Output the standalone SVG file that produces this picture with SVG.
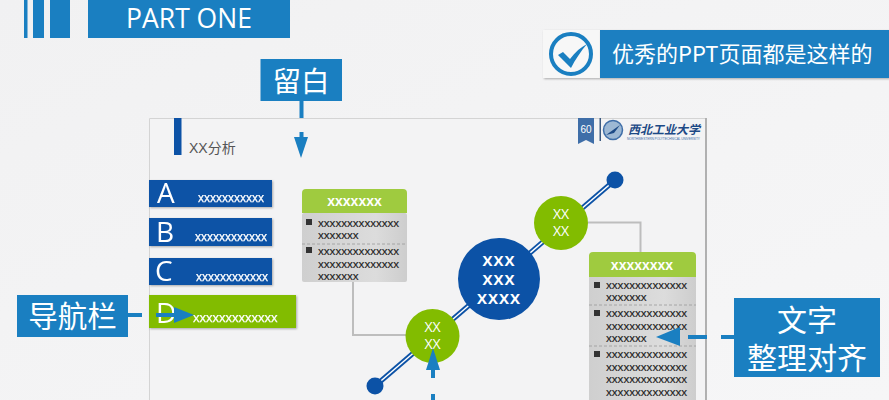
<svg xmlns="http://www.w3.org/2000/svg" width="889" height="400" viewBox="0 0 889 400">
<style>
.blue{fill:#1a7fc1}
.navy{fill:#0c52a6}
.green{fill:#82bc00}
.lime{fill:#9fcb3f}
.w{fill:#fff;font-family:"Open Sans","Liberation Sans",sans-serif}
.cjk{fill:#fff;font-family:"Noto Sans CJK SC","Noto Sans",sans-serif;text-anchor:middle}
.lt{fill:#fff;stroke:#fff;stroke-width:.25;font-family:"Liberation Sans",sans-serif;font-size:12px}
.ctr{text-anchor:middle}
.tb{fill:#222;stroke:#222;stroke-width:.15;font-family:"Liberation Sans",sans-serif;font-size:11.6px}
.hd{fill:#fff;font-family:"Liberation Sans",sans-serif;font-size:14px;text-anchor:middle;font-weight:bold}
.cn{fill:none;stroke:#bdbdbd;stroke-width:2}
.ar{fill:none;stroke:#1a7fc1;stroke-width:4}
.sep{stroke:#999;stroke-width:.8;stroke-dasharray:3 2}
.bul{fill:#333}
</style>
<defs>
<linearGradient id="bg" x1="0" y1="0" x2="1" y2="1"><stop offset="0" stop-color="#f1f1f2"/><stop offset="1" stop-color="#f6f6f7"/></linearGradient>
<linearGradient id="cell" x1="0" y1="0" x2="1" y2="0"><stop offset="0" stop-color="#cfcfcf"/><stop offset=".7" stop-color="#dcdcdc"/><stop offset="1" stop-color="#cdcdcd"/></linearGradient>
<filter id="sh" x="-5%" y="-10%" width="110%" height="125%"><feDropShadow dx="1" dy="1" stdDeviation="1" flood-color="#000" flood-opacity=".3"/></filter>
</defs>
<rect width="889" height="400" fill="url(#bg)"/>

<g id="part-one">
<rect class="blue" x="24" y="0" width="3.500" height="38"/>
<rect class="blue" x="33" y="0" width="11" height="38"/>
<rect class="blue" x="50" y="0" width="20" height="38"/>
<rect class="blue" x="88" y="0" width="202" height="38"/>
<text class="w" x="189" y="27.500" font-size="26.500" text-anchor="middle">PART ONE</text>
</g>

<g id="slide">
<rect x="149" y="118" width="557" height="290" fill="#f3f3f4"/>
<path d="M149.500 400V118.500H705" fill="none" stroke="#d4d4d4" stroke-width="1"/>
<path d="M706 118V400" stroke="#9a9a9a" stroke-width="1.500" fill="none"/>
<rect class="navy" x="174" y="118" width="7.500" height="37"/>
<text x="189" y="153" font-size="14" fill="#555" font-family="'Liberation Sans','Noto Sans CJK SC',sans-serif">XX分析</text>
</g>

<g id="slide-logo">
<path d="M578 118h16v26l-8-4-8 4z" fill="#3f6ea8"/>
<text x="586" y="133" font-size="10" fill="#fff" text-anchor="middle" font-family="'Liberation Sans',sans-serif">60</text>
<rect x="599.500" y="118" width="1.500" height="23" fill="#3c5a80"/>
<circle cx="613" cy="130" r="9.500" fill="#9db8d4" stroke="#3f6ea8" stroke-width="1.500"/>
<path d="M606 135 L620 125 L614 133 Z" fill="#1d4a86"/>
<text x="628" y="134" font-size="12" font-weight="bold" font-style="italic" fill="#1d4a86" textLength="72" font-family="'Noto Sans CJK SC',sans-serif">西北工业大学</text>
<text x="627" y="139.500" font-size="3.200" fill="#3f6ea8" textLength="73" font-family="'Liberation Sans',sans-serif">NORTHWESTERN POLYTECHNICAL UNIVERSITY</text>
</g>

<g id="connectors">
<path class="cn" d="M353 282V335H406"/>
<path class="cn" d="M588 222.500H640.500V252"/>
<path d="M375 386L615 180" stroke="#0c52a6" stroke-width="5" fill="none"/>
<path d="M375 386L615 180" stroke="#fff" stroke-width="1.500" fill="none"/>
</g>

<g id="nav-a" filter="url(#sh)">
<rect class="navy" x="149" y="180" width="123" height="27"/>
<text class="w" x="157" y="203" font-size="28">A</text>
<text class="lt" x="198" y="202">xxxxxxxxxxx</text>
</g>
<g id="nav-b" filter="url(#sh)">
<rect class="navy" x="149" y="218" width="123" height="28"/>
<text class="w" x="156" y="241.500" font-size="28">B</text>
<text class="lt" x="195" y="241">xxxxxxxxxxxx</text>
</g>
<g id="nav-c" filter="url(#sh)">
<rect class="navy" x="149" y="258" width="123" height="27"/>
<text class="w" x="155" y="281" font-size="28">C</text>
<text class="lt" x="196" y="281">xxxxxxxxxxxx</text>
</g>
<g id="nav-d" filter="url(#sh)">
<rect class="green" x="149" y="295" width="147" height="33"/>
<text class="w" x="156" y="323" font-size="28">D</text>
<text class="lt" x="193" y="322" style="font-size:13px">xxxxxxxxxxxxx</text>
</g>

<g id="table-left">
<path class="lime" d="M302 213V193a4 4 0 0 1 4-4H403a4 4 0 0 1 4 4V213Z"/>
<rect x="302" y="213" width="105" height="69" rx="2" fill="url(#cell)"/>
<text class="hd" x="354.500" y="206">xxxxxxx</text>
<line class="sep" x1="302" y1="244" x2="407" y2="244"/>
<rect class="bul" x="306" y="219" width="6" height="6"/>
<rect class="bul" x="306" y="247" width="6" height="6"/>
<text class="tb" x="318" y="227">xxxxxxxxxxxxxx</text>
<text class="tb" x="318" y="239">xxxxxxx</text>
<text class="tb" x="318" y="255">xxxxxxxxxxxxxx</text>
<text class="tb" x="318" y="268">xxxxxxxxxxxxxx</text>
<text class="tb" x="318" y="280">xxxxxxx</text>
</g>

<g id="table-right">
<path class="lime" d="M589 277V256a4 4 0 0 1 4-4H692a4 4 0 0 1 4 4V277Z"/>
<rect x="589" y="277" width="107" height="130" fill="url(#cell)"/>
<text class="hd" x="642" y="270">xxxxxxxx</text>
<line class="sep" x1="589" y1="305" x2="696" y2="305"/>
<line class="sep" x1="589" y1="346" x2="696" y2="346"/>
<rect class="bul" x="594" y="282" width="6" height="6"/>
<rect class="bul" x="594" y="310" width="6" height="6"/>
<rect class="bul" x="594" y="351" width="6" height="6"/>
<text class="tb" x="606" y="289">xxxxxxxxxxxxxx</text>
<text class="tb" x="606" y="301">xxxxxxx</text>
<text class="tb" x="606" y="317">xxxxxxxxxxxxxx</text>
<text class="tb" x="606" y="330">xxxxxxxxxxxxxx</text>
<text class="tb" x="606" y="342">xxxxxxx</text>
<text class="tb" x="606" y="358">xxxxxxxxxxxxxx</text>
<text class="tb" x="606" y="371">xxxxxxxxxxxxxx</text>
<text class="tb" x="606" y="383">xxxxxxxxxxxxxx</text>
<text class="tb" x="606" y="396">xxxxxxxxxxxxxx</text>
</g>

<g id="circle-center">
<circle class="navy" cx="499" cy="279" r="41"/>
<text class="w ctr" x="499" y="265.500" font-size="15" font-weight="bold" letter-spacing="1">XXX</text>
<text class="w ctr" x="499" y="284.500" font-size="15" font-weight="bold" letter-spacing="1">XXX</text>
<text class="w ctr" x="499" y="303.500" font-size="15" font-weight="bold" letter-spacing="1">XXXX</text>
</g>
<g id="circle-lower">
<circle class="green" cx="432.500" cy="336" r="27"/>
<text class="w ctr" x="432.500" y="332" font-size="14">XX</text>
<text class="w ctr" x="432.500" y="349" font-size="14">XX</text>
</g>
<g id="circle-upper">
<circle class="green" cx="561" cy="223" r="27"/>
<text class="w ctr" x="561" y="219" font-size="14">XX</text>
<text class="w ctr" x="561" y="236" font-size="14">XX</text>
</g>
<g id="dot-start"><circle class="navy" cx="375" cy="386" r="8.500"/></g>
<g id="dot-end"><circle class="navy" cx="615" cy="180" r="8.500"/></g>

<g id="callouts">
<path class="ar" d="M142 315H128M156 315H180"/>
<path class="blue" d="M174 307L194 315L174 323Z"/>
<path class="ar" d="M301.500 101V118M301.500 132V138"/>
<path class="blue" d="M294 137H308L301 158Z"/>
<path class="ar" d="M433 394V400M433 370V378"/>
<path class="blue" d="M426 370H440L433 348Z"/>
<path class="ar" d="M734 337H721M707 337H688M680 337H672"/>
<path class="blue" d="M680 327V346L656 337Z"/>
</g>

<g id="label-liubai">
<rect class="blue" x="260.500" y="59" width="81.500" height="42"/>
<text class="cjk" x="301" y="92" font-size="28.500">留白</text>
</g>
<g id="label-nav">
<rect class="blue" x="17" y="295" width="111" height="42"/>
<text class="cjk" x="72.500" y="327" font-size="29.500">导航栏</text>
</g>
<g id="label-align">
<rect class="blue" x="734" y="298" width="146" height="79"/>
<text class="cjk" x="807" y="331" font-size="30">文字</text>
<text class="cjk" x="807" y="369" font-size="30">整理对齐</text>
</g>

<g id="banner">
<rect x="543" y="30" width="57" height="48" fill="#f7f7f7" filter="url(#sh)"/>
<rect class="blue" x="600" y="30" width="289" height="48" filter="url(#sh)"/>
<circle cx="571" cy="54" r="20" fill="#f7f7f7" stroke="#1a7fc1" stroke-width="4"/>
<path d="M558 55l5-3 7 7C575 52 581 47 587 44C581 51 575 60 571 68Z" class="blue"/>
<text x="612" y="62" font-size="22" fill="#fff" font-family="'Noto Sans CJK SC',sans-serif">优秀的PPT页面都是这样的</text>
</g>
</svg>
